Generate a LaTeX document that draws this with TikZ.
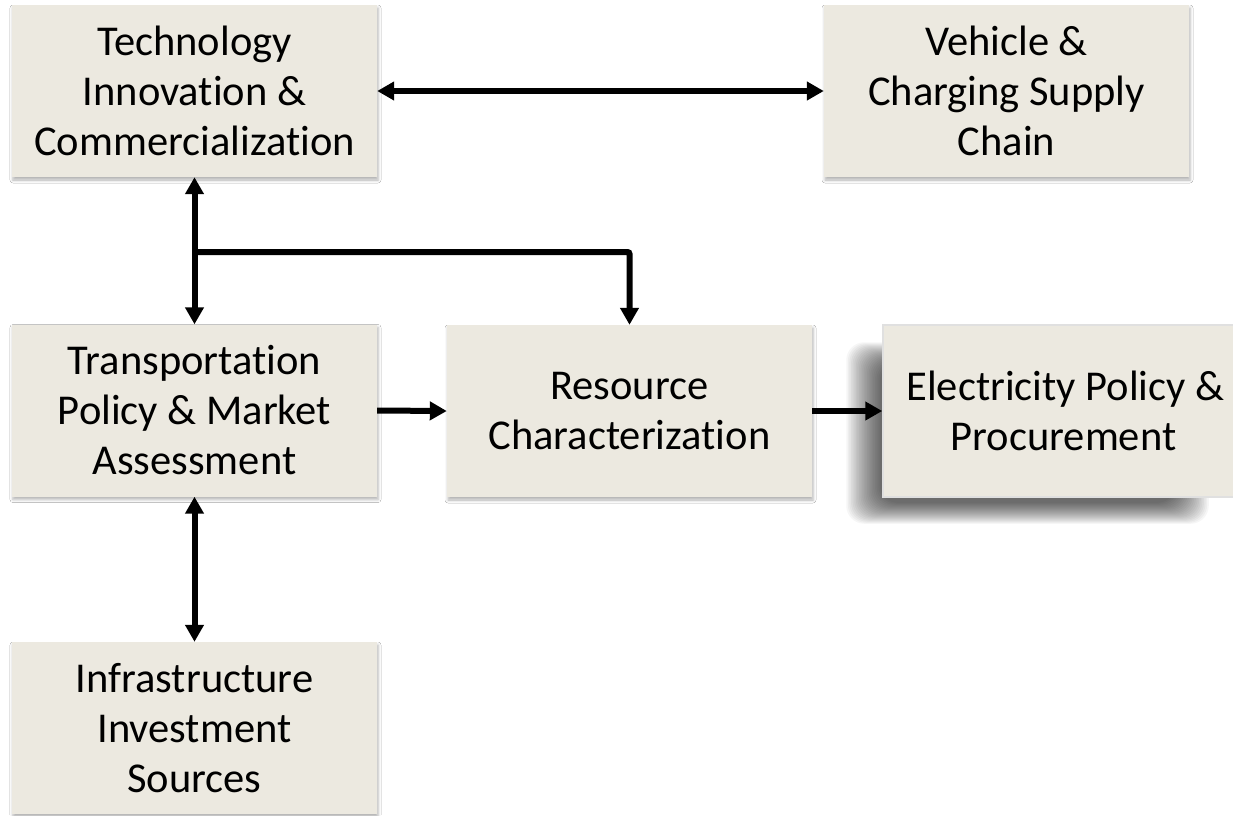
\documentclass[tikz,border=0pt]{standalone}
\usepackage{fontspec}
\setmainfont{Carlito}[RawFeature=-liga]
\usetikzlibrary{arrows.meta,shadows.blur,calc,backgrounds}
\definecolor{boxfill}{RGB}{236,233,224}
\tikzset{
  blk/.style={rectangle, fill=boxfill, minimum width=365pt, minimum height=172pt,
    align=center, inner sep=0pt, font=\fontsize{42.5}{50}\selectfont,
    blur shadow={shadow xshift=1pt, shadow yshift=-3pt, shadow blur radius=3pt, shadow opacity=30}},
  bevelbox/.style={rectangle, fill=boxfill, minimum width=365pt, minimum height=172pt,
    align=center, inner sep=0pt, font=\fontsize{42.5}{50}\selectfont, draw=black!12, line width=1.5pt},
  softshade/.style={fill=black, opacity=0.036, rounded corners=18pt},
  conn/.style={line width=6pt, -{Triangle[length=17pt,width=18pt]}},
  conn2/.style={line width=6pt, {Triangle[length=17pt,width=18pt]}-{Triangle[length=17pt,width=18pt]}},
}
\begin{document}
\begin{tikzpicture}[x=1pt,y=-1pt]
\useasboundingbox (0,0) rectangle (1233,815);
\node[blk] (tech) at (194.5,91) {Technology\\Innovation \&\\Commercialization};
\node[blk] (veh) at (1006.5,91) {Vehicle \&\\Charging Supply\\Chain};
\node[blk] (trans) at (194.5,410.5) {Transportation\\Policy \& Market\\Assessment};
\node[blk] (res) at (629.5,411) {Resource\\Characterization};
\node[bevelbox] (elec) at (1065.5,411) {Electricity Policy \&\\Procurement\hspace*{4pt}};
\node[blk] (infra) at (194.5,728) {Infrastructure\\Investment\\Sources};
\begin{scope}[on background layer]
  \fill[white] (0,0) rectangle (1233,815);
  \foreach \i in {0,...,21}{
    \fill[softshade] ($(elec.north west)+(-36+1.6*\i, 18+\i)$) rectangle ($(elec.south east)+(-40-1.6*\i, 26-\i)$);
  }
\end{scope}
\coordinate (br) at (194.5,252);
\draw[conn2] (tech.east) -- (veh.west);
\draw[conn2] (tech.south) -- (trans.north);
\draw[conn, rounded corners=2pt] (br) -| (res.north);
\draw[conn] (trans.east) -- (res.west);
\draw[conn] (res.east) -- (elec.west);
\draw[conn2] (trans.south) -- (infra.north);
\end{tikzpicture}
\end{document}
